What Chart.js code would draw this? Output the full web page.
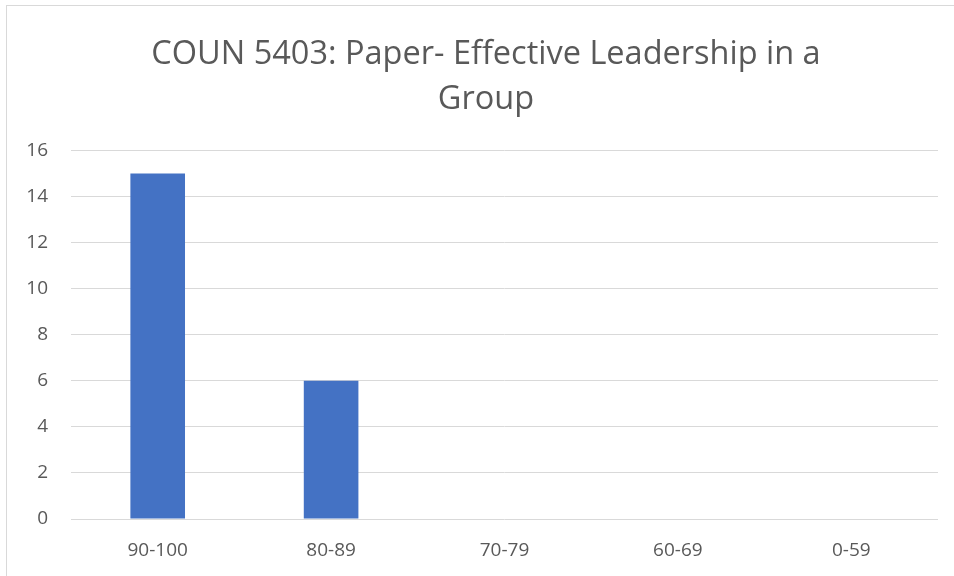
<!DOCTYPE html>
<html>
<head>
<meta charset="utf-8">
<script src="https://cdn.jsdelivr.net/npm/chart.js@4"></script>
<style>
  html, body { margin: 0; padding: 0; background: #fff; overflow: hidden; }
  #frame {
    position: absolute; left: 6px; top: 5px; width: 960px; height: 590px;
    border: 1px solid #d9d9d9; box-sizing: border-box;
  }
  #wrap { position: absolute; left: 0; top: 0; width: 954px; height: 576px; }
</style>
</head>
<body>
<div id="frame"></div>
<div id="wrap"><canvas id="chart"></canvas></div>
<script>
const titleLines = ['COUN 5403: Paper- Effective Leadership in a', 'Group']
const categories = ['90-100', '80-89', '70-79', '60-69', '0-59']
const counts = [15, 6, 0, 0, 0]
const yTicks = [0, 2, 4, 6, 8, 10, 12, 14, 16]

const textColor = '#595959'
const gridColor = '#d9d9d9'
const fontFamily = '"Open Sans", "Liberation Sans", sans-serif'

const ctx = document.getElementById('chart')
new Chart(ctx, {
  type: 'bar',
  data: {
    labels: categories,
    datasets: [
      {
        data: counts,
        backgroundColor: '#4472c4',
        borderWidth: 0,
        categoryPercentage: 0.315,
        barPercentage: 1,
      },
    ],
  },
  options: {
    responsive: true,
    maintainAspectRatio: false,
    animation: false,
    // title is centred on the whole (cropped) frame, so pad left only
    layout: { padding: { left: 18, right: 0, top: 0, bottom: 0 } },
    plugins: {
      legend: { display: false },
      tooltip: { enabled: false },
      title: {
        display: true,
        text: titleLines,
        color: textColor,
        font: { family: fontFamily, size: 32.5, weight: 'normal', lineHeight: 1.4 },
        padding: { top: 31.5, bottom: 28 },
      },
    },
    scales: {
      x: {
        grid: { display: false, drawTicks: false },
        border: { display: false },
        ticks: { color: textColor, font: { family: fontFamily, size: 19 }, padding: 20 },
        afterFit: (scale) => { scale.height = 57 },
      },
      y: {
        min: 0,
        max: 16,
        afterBuildTicks: (scale) => { scale.ticks = yTicks.map((v) => ({ value: v })) },
        grid: { color: gridColor, lineWidth: 1, drawTicks: false },
        border: { display: false },
        ticks: { color: textColor, font: { family: fontFamily, size: 19 }, padding: 23 },
        afterFit: (scale) => { scale.width = 53 },
      },
      // empty spacer on the right of the plot area
      yRight: {
        position: 'right',
        min: 0,
        max: 16,
        grid: { display: false, drawTicks: false },
        border: { display: false },
        ticks: { display: false },
        afterFit: (scale) => { scale.width = 16 },
      },
    },
  },
})
</script>
</body>
</html>
